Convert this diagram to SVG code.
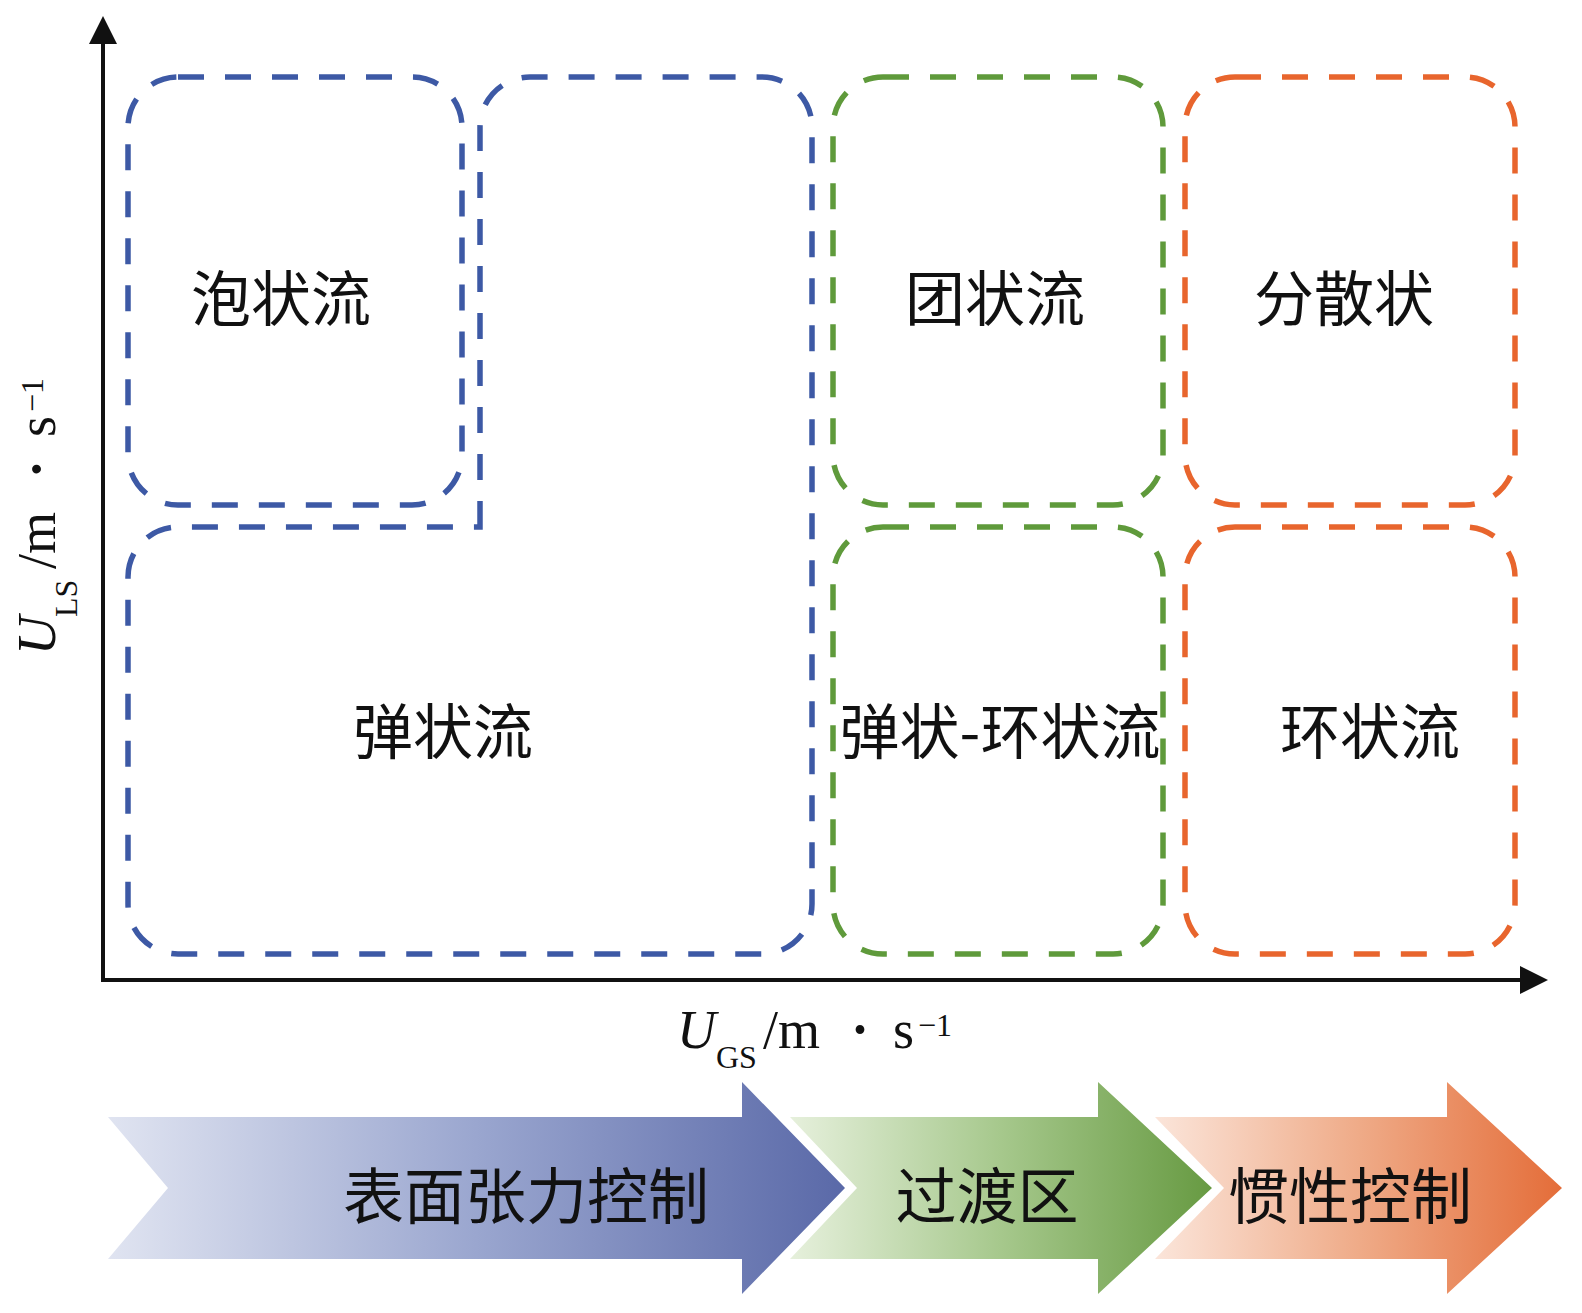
<svg xmlns="http://www.w3.org/2000/svg" width="1582" height="1313" viewBox="0 0 1582 1313">
<style>
.box{fill:none;stroke-width:5.5;stroke-dasharray:26 21;stroke-linecap:butt}
.blue{stroke:#3d59a5}
.green{stroke:#5f9a3b}
.orange{stroke:#e8652d}
.lab{font-family:"Noto Sans CJK SC",sans-serif;font-size:60px;fill:#111;text-anchor:middle}
.band{font-family:"Noto Sans CJK SC",sans-serif;font-size:61px;fill:#111;text-anchor:middle}
.ax{font-family:"Liberation Serif",serif;fill:#111}
.axis{stroke:#111;stroke-width:4;fill:none}
</style>
<defs>
<marker id="ah" viewBox="0 0 28 28" refX="2" refY="14" markerWidth="28" markerHeight="28" markerUnits="userSpaceOnUse" orient="auto">
<path d="M0,0 L28,14 L0,28 Z" fill="#111"/>
</marker>
<linearGradient id="gb" x1="0" y1="0" x2="1" y2="0">
<stop offset="0" stop-color="#e0e4f1"/><stop offset="0.5" stop-color="#9aa6cf"/><stop offset="1" stop-color="#5a69a8"/>
</linearGradient>
<linearGradient id="gg" x1="0" y1="0" x2="1" y2="0">
<stop offset="0" stop-color="#e6f0dc"/><stop offset="0.5" stop-color="#a6c88c"/><stop offset="1" stop-color="#679a42"/>
</linearGradient>
<linearGradient id="go" x1="0" y1="0" x2="1" y2="0">
<stop offset="0" stop-color="#fbe5da"/><stop offset="0.5" stop-color="#efab88"/><stop offset="1" stop-color="#e46d39"/>
</linearGradient>
</defs>

<g id="axes">
<line class="axis" x1="103" y1="980" x2="103" y2="42" marker-end="url(#ah)"/>
<line class="axis" x1="101" y1="980" x2="1522" y2="980" marker-end="url(#ah)"/>
</g>

<g id="bubble-flow">
<rect class="box blue" x="128" y="77" width="334" height="428" rx="50" ry="50"/>
<text class="lab" x="281" y="321">泡状流</text>
</g>

<g id="slug-flow">
<path class="box blue" d="M480,527 L480,127 A50,50 0 0 1 530,77 L762,77 A50,50 0 0 1 812,127 L812,904 A50,50 0 0 1 762,954 L178,954 A50,50 0 0 1 128,904 L128,577 A50,50 0 0 1 178,527 Z"/>
<text class="lab" x="443" y="754">弹状流</text>
</g>

<g id="churn-flow">
<rect class="box green" x="833" y="77" width="330" height="428" rx="50" ry="50"/>
<text class="lab" x="995" y="321">团状流</text>
</g>

<g id="slug-annular-flow">
<rect class="box green" x="833" y="527" width="330" height="427" rx="50" ry="50"/>
<text class="lab" x="1000" y="754">弹状-环状流</text>
</g>

<g id="dispersed-flow">
<rect class="box orange" x="1185" y="77" width="330" height="428" rx="50" ry="50"/>
<text class="lab" x="1344" y="321">分散状</text>
</g>

<g id="annular-flow">
<rect class="box orange" x="1185" y="527" width="330" height="427" rx="50" ry="50"/>
<text class="lab" x="1370" y="754">环状流</text>
</g>

<g id="x-label" class="ax">
<text x="677" y="1048" font-size="54" font-style="italic">U</text>
<text x="716" y="1068" font-size="32">GS</text>
<text x="763" y="1048" font-size="54">/m</text>
<text x="860" y="1048" font-size="54" font-weight="bold" text-anchor="middle">·</text>
<text x="893" y="1048" font-size="54">s</text>
<text x="918" y="1036" font-size="32">−1</text>
</g>

<g id="y-label" class="ax" transform="translate(55,655) rotate(-90)">
<text x="0" y="0" font-size="54" font-style="italic">U</text>
<text x="38" y="22" font-size="32">LS</text>
<text x="86" y="0" font-size="54">/m</text>
<text x="186" y="0" font-size="54" font-weight="bold" text-anchor="middle">·</text>
<text x="218" y="0" font-size="54">s</text>
<text x="243" y="-12" font-size="32">−1</text>
</g>

<g id="band-surface-tension">
<polygon points="108,1117 742,1117 742,1082 845,1188 742,1294 742,1259 108,1259 168,1188" fill="url(#gb)"/>
<text class="band" x="526" y="1219">表面张力控制</text>
</g>

<g id="band-transition">
<polygon points="790,1117 1098,1117 1098,1082 1212,1188 1098,1294 1098,1259 790,1259 857,1188" fill="url(#gg)"/>
<text class="band" x="987" y="1219">过渡区</text>
</g>

<g id="band-inertia">
<polygon points="1155,1117 1447,1117 1447,1082 1562,1188 1447,1294 1447,1259 1155,1259 1224,1188" fill="url(#go)"/>
<text class="band" x="1350" y="1219">惯性控制</text>
</g>
</svg>
